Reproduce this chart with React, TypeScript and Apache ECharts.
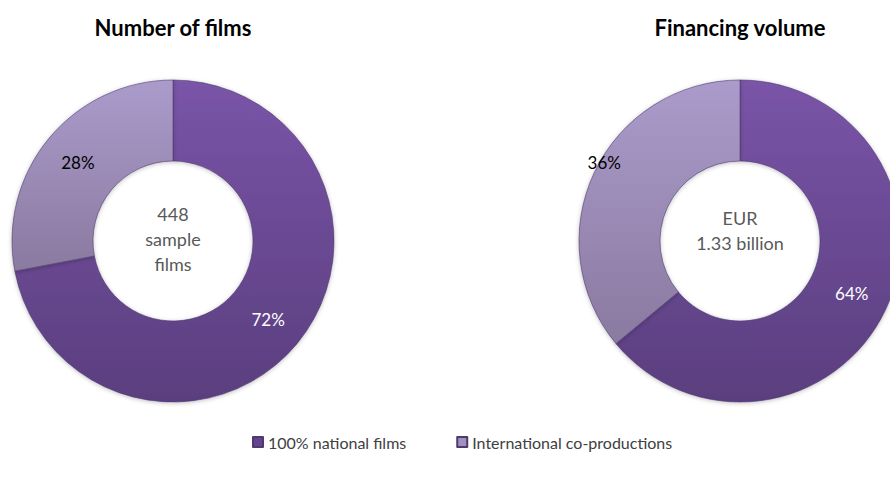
import React, { useEffect, useRef } from "react";
import * as echarts from "echarts";

const categories = ["100% national films", "International co-productions"];
const filmsShare = [72, 28];
const financingShare = [64, 36];
const chartTitles = ["Number of films", "Financing volume"];
const centerTexts = ["448\nsample\nfilms", "EUR\n1.33 billion"];

const FONT = "Lato, 'Open Sans', sans-serif";

const darkFill = new echarts.graphic.LinearGradient(0, 0, 0, 1, [
  { offset: 0, color: "#7a54a8" },
  { offset: 1, color: "#5a3e7e" },
]);
const lightFill = new echarts.graphic.LinearGradient(0, 0, 0, 1, [
  { offset: 0, color: "#ab9bcb" },
  { offset: 1, color: "#8a7aa0" },
]);
const fills = [darkFill, lightFill];
const labelColors = ["#ffffff", "#000000"];
const legendIcons = ["#64448f", "#a091bd"];

function buildData(values: number[], lightOffset: number[]) {
  return values.map((v, i) => ({
    name: categories[i],
    value: v,
    itemStyle: { color: fills[i] },
    label: { color: labelColors[i], offset: i === 1 ? lightOffset : [0, 0] },
  }));
}

export default function App() {
  const ref = useRef<HTMLDivElement>(null);
  useEffect(() => {
    if (!ref.current) return;
    const chart = echarts.init(ref.current, null, { renderer: "svg" });
    const centers = [
      [173, 241],
      [740, 241],
    ];
    const centerTextY = [239, 230];
    const seriesBase = {
      type: "pie",
      radius: [80, 161],
      startAngle: 90,
      clockwise: true,
      avoidLabelOverlap: false,
      itemStyle: {
        borderColor: "#4e3a6e",
        borderWidth: 0.6,
        shadowBlur: 4,
        shadowColor: "rgba(0,0,0,0.25)",
        shadowOffsetY: 1,
      },
      label: {
        show: true,
        position: "inside",
        formatter: "{c}%",
        fontFamily: FONT,
        fontSize: 17,
      },
      labelLine: { show: false },
      emphasis: { disabled: true },
    };
    chart.setOption({
      animation: false,
      color: legendIcons,
      legend: {
        data: categories.map((c, i) => ({
          name: c,
          itemStyle: { color: legendIcons[i] },
        })),
        left: 247,
        top: 429,
        icon: "rect",
        itemWidth: 10,
        itemHeight: 10,
        itemGap: 50,
        selectedMode: false,
        textStyle: { fontFamily: FONT, fontSize: 16, color: "#404040" },
      },
      graphic: [
        ...chartTitles.map((t, i) => ({
          type: "text",
          x: centers[i][0],
          y: 27,
          style: {
            text: t,
            align: "center",
            verticalAlign: "middle",
            font: `bold 22px ${FONT}`,
            fill: "#000000",
          },
        })),
        ...centerTexts.map((t, i) => ({
          type: "text",
          x: centers[i][0],
          y: centerTextY[i],
          style: {
            text: t,
            align: "center",
            verticalAlign: "middle",
            font: `18px ${FONT}`,
            lineHeight: 25,
            fill: "#595959",
          },
        })),
      ],
      series: [
        { ...seriesBase, name: chartTitles[0], center: centers[0], data: buildData(filmsShare, [0, 0]) },
        { ...seriesBase, name: chartTitles[1], center: centers[1], data: buildData(financingShare, [-24, -26]) },
      ],
    });
    return () => chart.dispose();
  }, []);
  return <div ref={ref} style={{ width: 890, height: 477, position: "absolute", left: 0, top: 0 }} />;
}
